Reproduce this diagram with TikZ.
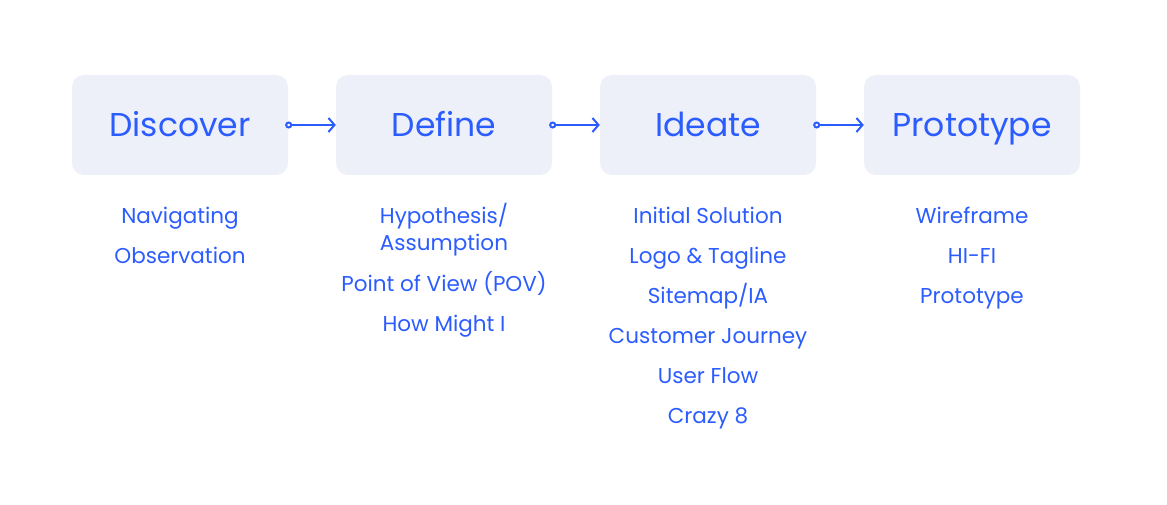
\documentclass[tikz,border=0pt]{standalone}
\usepackage{fontspec}
\setmainfont{Poppins}
\usetikzlibrary{arrows.meta, positioning}

\definecolor{stageblue}{HTML}{2B5CFF}
\definecolor{stagefill}{HTML}{EDF0F8}

\tikzset{
  stage/.style={fill=stagefill, rounded corners=12pt, minimum width=216pt,
    minimum height=100pt, inner sep=0pt, text=stageblue,
    text height=24pt, text depth=0pt,
    font=\fontsize{33}{40}\selectfont},
  item/.style={anchor=base, text=stageblue, align=center, inner sep=0pt,
    font=\fontsize{21.5}{28}\selectfont},
  flow/.style={draw=stageblue, line width=2pt,
    {Circle[open,length=7pt,width=7pt]}-{Straight Barb[length=6pt,width=14pt]}}
}

\begin{document}
\begin{tikzpicture}[x=1pt, y=-1pt]
\useasboundingbox (0,0) rectangle (1167,505);
% Stages
\node[stage] (discover) at (180,125) {Discover};
\node[stage] (define) at (444,125) {Define};
\node[stage] (ideate) at (708,125) {Ideate};
\node[stage] (prototype) at (972,125) {Prototype};
% Flow between stages
\draw[flow] ([xshift=-3pt]discover.east) -- (define.west);
\draw[flow] ([xshift=-3pt]define.east) -- (ideate.west);
\draw[flow] ([xshift=-3pt]ideate.east) -- (prototype.west);
% Discover items
\node[item] (navigating) at (180,223) {Navigating};
\node[item] (observation) at (180,263) {Observation};
% Define items
\node[item] (hypothesis) at (444,251) {Hypothesis/\\Assumption};
\node[item] (pov) at (444,291) {Point of View (POV)};
\node[item] (hmw) at (444,331) {How Might I};
% Ideate items
\node[item] (solution) at (708,223) {Initial Solution};
\node[item] (logo) at (708,263) {Logo \& Tagline};
\node[item] (sitemap) at (708,303) {Sitemap/IA};
\node[item] (journey) at (708,343) {Customer Journey};
\node[item] (userflow) at (708,383) {User Flow};
\node[item] (crazy) at (708,423) {Crazy 8};
% Prototype items
\node[item] (wireframe) at (972,223) {Wireframe};
\node[item] (hifi) at (972,263) {HI-FI};
\node[item] (proto) at (972,303) {Prototype};
\end{tikzpicture}
\end{document}
